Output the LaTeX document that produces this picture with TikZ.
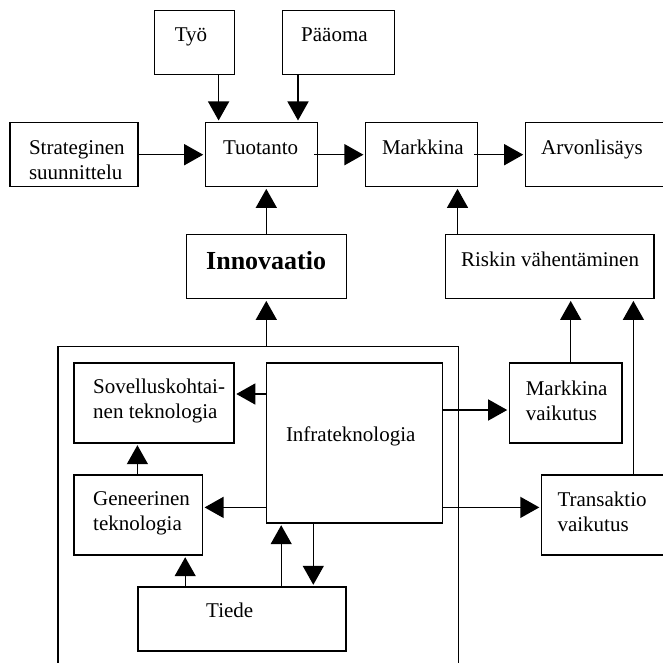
\documentclass[tikz,border=0pt]{standalone}
\usepackage{fontspec}
\setmainfont{Liberation Serif}
\usetikzlibrary{arrows.meta,calc}
\tikzset{
 box/.style={draw, line width=1.4pt, inner sep=0pt, anchor=north west, rectangle},
 lbl/.style={anchor=base west, inner sep=0pt, font=\fontsize{21}{25}\selectfont},
 arr/.style={line width=1.4pt, -{Triangle[length=19pt,width=21pt]}, shorten >=1.5pt},
}
\newcommand{\twolines}[2]{\begin{tabular}[t]{@{}l@{}}#1\\#2\end{tabular}}
\begin{document}
\begin{tikzpicture}[x=1pt,y=-1pt]
\fill[white] (0,0) rectangle (663,663);
\clip (0,0) rectangle (663,663);
% boxes
\node[box, minimum width=80pt,  minimum height=64pt] (tyo)    at (153.5,10) {};
\node[box, minimum width=112pt, minimum height=64pt] (paaoma) at (281.6,10) {};
\node[box, minimum width=128pt, minimum height=64pt] (strat)  at (9.3,122) {};
\node[box, minimum width=112pt, minimum height=64pt] (tuot)   at (204.7,122) {};
\node[box, minimum width=112pt, minimum height=64pt] (mark)   at (364.9,122) {};
\node[box, minimum width=150pt, minimum height=64pt] (arvon)  at (524.7,122) {};
\node[box, minimum width=160pt, minimum height=64pt] (innov)  at (185.6,234) {};
\node[box, minimum width=208.5pt, minimum height=64pt] (riskin) at (444.8,234) {};
\node[box, minimum width=400.4pt, minimum height=400pt] (outer) at (57.1,345.7) {};
\node[box, minimum width=160.2pt, minimum height=80pt] (sov)   at (73.2,362.3) {};
\node[box, minimum width=176.4pt, minimum height=160pt] (infra) at (265.5,362.3) {};
\node[box, minimum width=112.4pt, minimum height=80pt] (mv)    at (508.7,362.3) {};
\node[box, minimum width=128.5pt, minimum height=80pt] (gen)   at (73.2,474.3) {};
\node[box, minimum width=150pt,   minimum height=80pt] (trans) at (540.8,474.3) {};
\node[box, minimum width=208pt,   minimum height=64pt] (tiede) at (137.4,586.3) {};
% texts
\node[lbl] (t-tyo)   at (174.6,41.5) {Työ};
\node[lbl] (t-paa)   at (301,41.5) {Pääoma};
\node[lbl] (t-strat) at (28.8,154) {\twolines{Strateginen}{suunnittelu}};
\node[lbl] (t-tuot)  at (222.8,154) {Tuotanto};
\node[lbl] (t-mark)  at (381.8,154) {Markkina};
\node[lbl] (t-arvon) at (541,154) {Arvonlisäys};
\node[lbl, font=\fontsize{26}{30}\selectfont\bfseries] (t-innov) at (206,269.5) {Innovaatio};
\node[lbl] (t-riskin) at (460.9,266.7) {Riskin vähentäminen};
\node[lbl] (t-sov)   at (93,393.3) {\twolines{Sovelluskohtai-}{nen teknologia}};
\node[lbl] (t-infra) at (285.8,441.7) {Infrateknologia};
\node[lbl] (t-mv)    at (525.6,395) {\twolines{Markkina}{vaikutus}};
\node[lbl] (t-gen)   at (93,505.7) {\twolines{Geneerinen}{teknologia}};
\node[lbl] (t-trans) at (557.3,506.7) {\twolines{Transaktio}{vaikutus}};
\node[lbl] (t-tiede) at (206,617.3) {Tiede};
% arrows
\draw[arr] ([xshift=24.4pt]tyo.south) coordinate (p1) -- (p1 |- tuot.north);
\draw[arr] ([xshift=-40.3pt]paaoma.south) coordinate (p2) -- (p2 |- tuot.north);
\draw[arr] (strat.east) -- (tuot.west);
\draw[arr] ([xshift=-4pt]tuot.east) -- (mark.west);
\draw[arr] ([xshift=-4pt]mark.east) -- (arvon.west);
\draw[arr] (innov.north) -- (innov.north |- tuot.south);
\draw[arr] ([xshift=12.7pt]riskin.north west) coordinate (p7) -- (p7 |- mark.south);
\draw[arr] (innov.south |- outer.north) -- (innov.south);
\draw[arr] ([xshift=5.1pt]mv.north) coordinate (p9) -- (p9 |- riskin.south);
\draw[arr] ([xshift=92.6pt]trans.north west) coordinate (p10) -- (p10 |- riskin.south);
\draw[arr] ([yshift=-31.7pt]infra.north west) coordinate (p11) -- (p11 -| sov.east);
\draw[arr] ([yshift=-47.7pt]infra.north east) coordinate (p12) -- (p12 -| mv.west);
\draw[arr] ([yshift=16.3pt]infra.south west) coordinate (p13) -- (p13 -| gen.east);
\draw[arr] ([yshift=16.3pt]infra.south east) coordinate (p14) -- (p14 -| trans.west);
\draw[arr] ([xshift=64.2pt]gen.north west) coordinate (p15) -- (p15 |- sov.south);
\draw[arr] ([xshift=47.8pt]tiede.north west) coordinate (p16) -- (p16 |- gen.south);
\draw[arr] ([xshift=143.8pt]tiede.north west) coordinate (p17) -- (p17 |- infra.south);
\draw[arr] ([xshift=47.8pt]infra.south west) coordinate (p18) -- (p18 |- tiede.north);
\end{tikzpicture}
\end{document}
